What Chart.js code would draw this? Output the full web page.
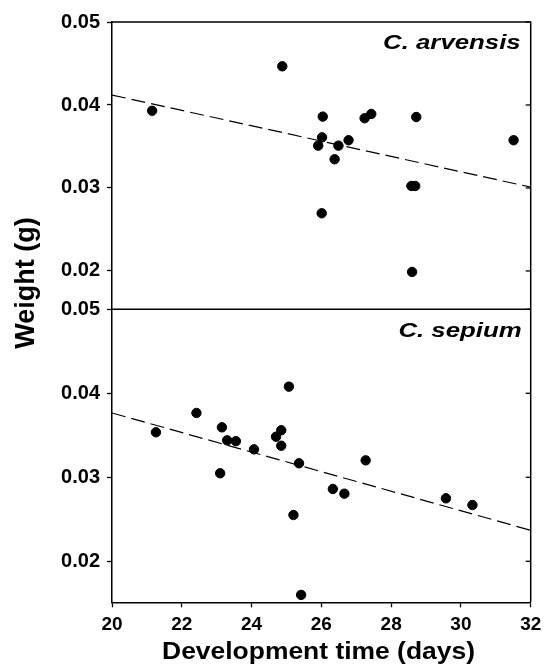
<!DOCTYPE html>
<html><head><meta charset="utf-8">
<script src="https://cdn.jsdelivr.net/npm/chart.js@4/dist/chart.umd.min.js"></script>
<style>html,body{margin:0;padding:0;background:#fff}</style>
</head><body>
<canvas id="c" width="544" height="666" style="display:block;width:544px;height:666px"></canvas>
<script>
const xTicks = [20, 22, 24, 26, 28, 30, 32];
const yTicksTop = [0.02, 0.03, 0.04, 0.05];
const yTicksBot = [0.02, 0.03, 0.04, 0.05];

const arvDays   = [21.15, 24.88, 26.04, 26.02, 25.91, 26.49, 26.78, 26.38, 27.24, 27.43, 28.72, 28.58, 28.69, 26.01, 28.60, 31.51];
const arvWeight = [0.0393, 0.04466, 0.0386, 0.0361, 0.0351, 0.0351, 0.03575, 0.03346, 0.0384, 0.03892, 0.03855, 0.03024, 0.03024, 0.02695, 0.01988, 0.03575];
const arvFitDays = [20, 32];
const arvFitWeight = [0.0412, 0.0301];

const sepDays   = [21.26, 22.42, 23.15, 23.30, 23.55, 23.10, 24.07, 25.07, 24.85, 24.70, 24.85, 25.36, 25.20, 25.42, 26.33, 26.66, 27.27, 29.57, 30.33];
const sepWeight = [0.03536, 0.03766, 0.03595, 0.0344, 0.0343, 0.03048, 0.03333, 0.04079, 0.0356, 0.03483, 0.03376, 0.03167, 0.02551, 0.0160, 0.02861, 0.02805, 0.03202, 0.0275, 0.0267];
const sepFitDays = [20, 32];
const sepFitWeight = [0.03766, 0.02369];

const speciesTop = 'C. arvensis';
const speciesBot = 'C. sepium';
const xTitle = 'Development time (days)';
const yTitle = 'Weight (g)';

const pts = (xs, ys) => xs.map((x, i) => ({x, y: ys[i]}));
const FONT = '"Liberation Sans", Arial, sans-serif';

const yAxis = (min, weight, vals, padTop) => ({
  type: 'linear', position: 'left', stack: 'panels', stackWeight: weight,
  min: min, max: 0.05,
  afterBuildTicks: s => { s.ticks = vals.map(v => ({value: v})); },
  afterFit: s => { s.width = 112; s.paddingTop = padTop; s.paddingBottom = 0; },
  grid: {display: true, drawOnChartArea: false, drawTicks: true, tickLength: 5, tickColor: '#000', tickWidth: 1.3},
  border: {display: true, color: '#000', width: 1.5},
  ticks: {color: '#000', font: {family: FONT, size: 20, weight: 'bold'}, padding: 7,
          callback: v => v.toFixed(2)}
});

const framePlugin = {
  id: 'frame',
  afterDraw(chart) {
    const {ctx, chartArea: a, scales} = chart;
    const yT = scales.yTop, yB = scales.yBot;
    ctx.save();
    ctx.strokeStyle = '#000';
    ctx.lineWidth = 1.5;
    ctx.beginPath();
    ctx.moveTo(a.left, a.top); ctx.lineTo(a.right, a.top); ctx.lineTo(a.right, a.bottom);
    ctx.moveTo(a.left, yT.bottom); ctx.lineTo(a.right, yT.bottom);
    ctx.stroke();
    ctx.lineWidth = 1.3;
    [[yT, yTicksTop], [yB, yTicksBot]].forEach(([s, vals]) => {
      vals.forEach(v => {
        const py = s.getPixelForValue(v);
        ctx.beginPath(); ctx.moveTo(a.right, py); ctx.lineTo(a.right - 5, py); ctx.stroke();
      });
    });
    ctx.fillStyle = '#000';
    const stretched = (text, x, y, font, sx, align) => {
      ctx.save(); ctx.translate(x, y); ctx.scale(sx, 1);
      ctx.font = font; ctx.textAlign = align; ctx.textBaseline = 'alphabetic';
      ctx.fillText(text, 0, 0); ctx.restore();
    };
    stretched(speciesTop, a.right - 10, a.top + 27, 'italic bold 20px ' + FONT, 1.29, 'right');
    stretched(speciesBot, a.right - 9, yT.bottom + 27.5, 'italic bold 20px ' + FONT, 1.29, 'right');
    stretched(xTitle, 318.5, 659, 'bold 23.5px ' + FONT, 1.125, 'center');
    ctx.save();
    ctx.translate(34, 283); ctx.rotate(-Math.PI / 2);
    ctx.font = 'bold 27px ' + FONT; ctx.textAlign = 'center'; ctx.textBaseline = 'alphabetic';
    ctx.fillText(yTitle, 0, 0);
    ctx.restore();
    ctx.restore();
  }
};

const dot = {pointRadius: 4.7, pointBorderWidth: 1, backgroundColor: '#000', borderColor: '#000', pointHoverRadius: 4.7};
const fit = {type: 'line', borderColor: '#000', borderWidth: 1.2, borderDash: [14, 6], pointRadius: 0, fill: false, tension: 0};

new Chart(document.getElementById('c'), {
  type: 'scatter',
  data: {
    datasets: [
      Object.assign({label: speciesTop, data: pts(arvDays, arvWeight), yAxisID: 'yTop'}, dot),
      Object.assign({label: speciesBot, data: pts(sepDays, sepWeight), yAxisID: 'yBot'}, dot),
      Object.assign({label: 'fitTop', data: pts(arvFitDays, arvFitWeight), yAxisID: 'yTop'}, fit),
      Object.assign({label: 'fitBot', data: pts(sepFitDays, sepFitWeight), yAxisID: 'yBot'}, fit)
    ]
  },
  options: {
    responsive: false, animation: false, devicePixelRatio: 1,
    layout: {padding: 0},
    plugins: {legend: {display: false}, tooltip: {enabled: false}},
    scales: {
      x: {
        type: 'linear', position: 'bottom', min: 20, max: 32,
        afterBuildTicks: s => { s.ticks = xTicks.map(v => ({value: v})); },
        afterFit: s => { s.height = 63.7; s.paddingLeft = 0; s.paddingRight = 13.3; },
        grid: {display: true, drawOnChartArea: false, drawTicks: true, tickLength: 5, tickColor: '#000', tickWidth: 1.3},
        border: {display: true, color: '#000', width: 1.5},
        ticks: {color: '#000', font: {family: FONT, size: 19, weight: 'bold'}, padding: 6, maxRotation: 0}
      },
      yBot: yAxis(0.01512, 293, yTicksBot, 0),
      yTop: yAxis(0.01538, 287.3, yTicksTop, 22)
    }
  },
  plugins: [framePlugin]
});
</script>
</body></html>
